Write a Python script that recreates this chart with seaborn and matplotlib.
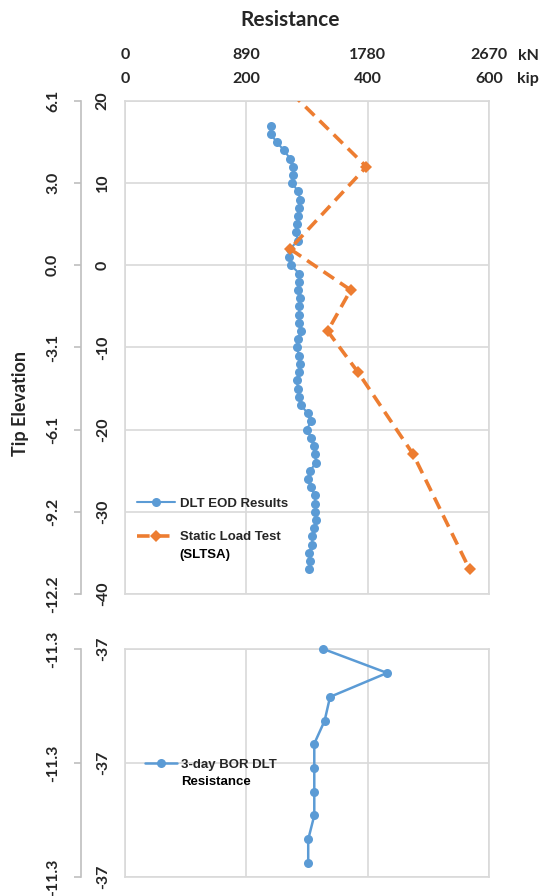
import numpy as np
import pandas as pd
import matplotlib
matplotlib.use("Agg")
import matplotlib.pyplot as plt
import seaborn as sns
from matplotlib import font_manager

# ---------------- data ----------------
eod_elev_ft = [17, 16, 15, 14, 13, 12, 11, 10, 9, 8, 7, 6, 5, 4, 3, 2, 1, 0,
               -1, -2, -3, -4, -5, -6, -7, -8, -9, -10, -11, -12, -13, -14, -15,
               -16, -17, -18, -19, -20, -21, -22, -23, -24, -25, -26, -27, -28,
               -29, -30, -31, -32, -33, -34, -35, -36, -37]
eod_kip = [240, 240, 250, 262, 272, 277, 277, 276, 285, 289, 286, 285, 283, 282,
           285, 272, 271, 274, 287, 287, 285, 288, 287, 287, 287, 290, 285, 283,
           287, 288, 287, 283, 285, 287, 290, 301, 306, 300, 307, 311, 313, 315,
           305, 302, 306, 313, 313, 314, 315, 312, 309, 308, 304, 305, 304]

slt_elev_ft = [21, 12, 2, -3, -8, -13, -23, -37]
slt_kip = [274, 398, 272, 372, 334, 384, 475, 568]

bor_elev_ft = [-37.000, -37.021, -37.042, -37.063, -37.083, -37.104, -37.125,
               -37.146, -37.167, -37.188]
bor_kip = [327, 432, 338, 329, 312, 312, 312, 312, 302, 302]

kip_ticks = [0, 200, 400, 600]
kip_labels = ["0", "200", "400", "600"]
kn_labels = ["0", "890", "1780", "2670"]
ft_ticks = [20, 10, 0, -10, -20, -30, -40]
ft_labels = ["20", "10", "0", "-10", "-20", "-30", "-40"]
m_labels = ["6.1", "3.0", "0.0", "-3.1", "-6.1", "-9.2", "-12.2"]
bor_ft_ticks = [-37.0, -37.1, -37.2]
bor_ft_labels = ["-37", "-37", "-37"]
bor_m_labels = ["-11.3", "-11.3", "-11.3"]

eod_df = pd.DataFrame({"kip": eod_kip, "elev": eod_elev_ft})
slt_df = pd.DataFrame({"kip": slt_kip, "elev": slt_elev_ft})
bor_df = pd.DataFrame({"kip": bor_kip, "elev": bor_elev_ft})

# ---------------- style ----------------
sns.set_theme(style="white")
installed = {f.name for f in font_manager.fontManager.ttflist}
main_font = ["Lato", "DejaVu Sans"] if "Lato" in installed else ["DejaVu Sans"]
leg_font = (["Liberation Sans Narrow", "Liberation Sans", "DejaVu Sans"]
            if "Liberation Sans Narrow" in installed
            else ["Liberation Sans", "DejaVu Sans"])
plt.rcParams["font.family"] = main_font

BLUE = "#5B9BD5"
ORANGE = "#ED7D31"
GRID = "#D9D9D9"
AXC = "#BFBFBF"

W, H = 539, 896
fig = plt.figure(figsize=(W / 100, H / 100), dpi=100)

L, R = 125, 489


def add_ax(top, bottom):
    return fig.add_axes([L / W, 1 - bottom / H, (R - L) / W, (bottom - top) / H])


ax1 = add_ax(101, 594)
ax2 = add_ax(649, 877)

tick_font = dict(family=main_font, weight="bold", size=11.5)

for ax in (ax1, ax2):
    ax.set_xlim(0, 600)
    ax.set_xticks(kip_ticks)
    ax.grid(True, color=GRID, linewidth=1.2)
    ax.set_axisbelow(True)
    for s in ax.spines.values():
        s.set_color(GRID)
        s.set_linewidth(1.2)

# ---------- top panel ----------
sns.lineplot(data=eod_df, x="kip", y="elev", sort=False, estimator=None,
             ax=ax1, color=BLUE, linewidth=1.5, marker="o", markersize=6.5,
             markeredgewidth=0, label="DLT EOD Results", zorder=3)
sns.lineplot(data=slt_df, x="kip", y="elev", sort=False, estimator=None,
             ax=ax1, color=ORANGE, linewidth=2.6, linestyle=(0, (3.5, 2.0)),
             marker="D", markersize=6.5, markeredgewidth=0,
             label="Static Load Test", zorder=4)
ax1.set_ylim(-40, 20)
ax1.set_xlabel("")
ax1.set_ylabel("")

ax1.xaxis.tick_top()
ax1.set_xticks(kip_ticks, labels=kip_labels, **tick_font)
ax1.tick_params(axis="x", top=True, bottom=False, length=0, pad=11,
                labeltop=True, labelbottom=False)
sec_top = ax1.secondary_xaxis("top")
sec_top.set_xticks(kip_ticks, labels=kn_labels, **tick_font)
sec_top.tick_params(axis="x", length=0, pad=28)
sec_top.spines["top"].set_visible(False)

ax1.set_yticks(ft_ticks, labels=ft_labels, **tick_font)
ax1.tick_params(axis="y", left=True, length=0, pad=11, labelrotation=90)
for t in ax1.get_yticklabels():
    t.set_va("center")

sec1 = ax1.secondary_yaxis(-0.121)
sec1.set_yticks(ft_ticks, labels=m_labels, **tick_font)
sec1.tick_params(axis="y", length=5, color=AXC, width=1.2, pad=10,
                 direction="out", labelrotation=90)
sec1.spines["left"].set_color(AXC)
sec1.spines["left"].set_linewidth(1.2)
for t in sec1.get_yticklabels():
    t.set_va("center")

leg1 = ax1.legend(loc="upper left", bbox_to_anchor=(0.033, 0.195),
                  frameon=False, borderpad=0, borderaxespad=0,
                  handlelength=2.85, handletextpad=0.38, labelspacing=1.58,
                  prop=dict(family=leg_font, weight="bold", size=9.5))
ax1.annotate("(SLTSA)", xy=(0, 0), xycoords=leg1.get_texts()[1],
             xytext=(0, -4.5), textcoords="offset points",
             ha="left", va="top", family=leg_font, weight="bold",
             size=9.5, color="black", zorder=7)

# ---------- bottom panel ----------
sns.lineplot(data=bor_df, x="kip", y="elev", sort=False, estimator=None,
             ax=ax2, color=BLUE, linewidth=1.8, marker="o", markersize=6.5,
             markeredgewidth=0, label="3-day BOR DLT", zorder=3, clip_on=False)
ax2.set_ylim(-37.2, -37.0)
ax2.set_xlabel("")
ax2.set_ylabel("")
ax2.tick_params(axis="x", bottom=False, top=False, labelbottom=False,
                labeltop=False, length=0)
ax2.set_yticks(bor_ft_ticks, labels=bor_ft_labels, **tick_font)
ax2.tick_params(axis="y", left=True, length=0, pad=11, labelrotation=90)
for t in ax2.get_yticklabels():
    t.set_va("center")

sec2 = ax2.secondary_yaxis(-0.121)
sec2.set_yticks(bor_ft_ticks, labels=bor_m_labels, **tick_font)
sec2.tick_params(axis="y", length=5, color=AXC, width=1.2, pad=10,
                 direction="out", labelrotation=90)
sec2.spines["left"].set_color(AXC)
sec2.spines["left"].set_linewidth(1.2)
for t in sec2.get_yticklabels():
    t.set_va("center")

leg2 = ax2.legend(loc="upper left", bbox_to_anchor=(0.055, 0.519),
                  frameon=False, borderpad=0, borderaxespad=0,
                  handlelength=2.45, handletextpad=0.25,
                  prop=dict(family=leg_font, weight="bold", size=9.5))
ax2.annotate("Resistance", xy=(0, 0), xycoords=leg2.get_texts()[0],
             xytext=(0, -3.7), textcoords="offset points",
             ha="left", va="top", family=leg_font, weight="bold",
             size=9.5, color="black", zorder=7)

# ---------- figure texts ----------
fig.text(290 / W, 1 - 20 / H, "Resistance", ha="center", va="center",
         family=main_font, weight="bold", size=15)
fig.text(528 / W, 1 - 56 / H, "kN", ha="center", va="center", **tick_font)
fig.text(528 / W, 1 - 79 / H, "kip", ha="center", va="center", **tick_font)
fig.text(21 / W, 1 - 403 / H, "Tip Elevation", ha="center", va="center",
         rotation=90, family=main_font, weight="bold", size=13)

fig.savefig("out.png", dpi=100)
